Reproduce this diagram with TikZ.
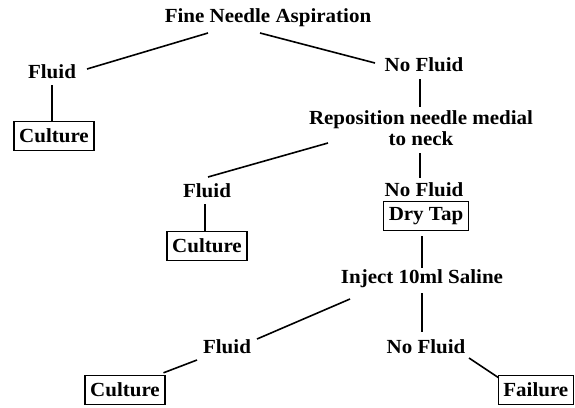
\documentclass[tikz,border=0pt]{standalone}
\usepackage{fontspec}
\setmainfont[FakeStretch=1.05]{Liberation Serif}

\begin{document}
\begin{tikzpicture}[x=1pt, y=-1pt,
  txt/.style={font=\bfseries\fontsize{20}{21}\selectfont, inner sep=0pt, align=center},
  res/.style={txt, draw, line width=1.4pt, inner xsep=5pt, minimum height=29pt},
  link/.style={line width=1.6pt}
]
\useasboundingbox (0,0) rectangle (575,407);
% first attempt
\node[txt] (fna) at (268,18) {Fine Needle Aspiration};
\node[txt] (fluidA) at (52,72) {Fluid};
\node[txt] (nofluidA) at (424,65) {No Fluid};
\node[res] (cultureA) at (54,136) {Culture};
\node[txt] (repos) at (421,128) {Reposition needle medial\\to neck};
% second attempt
\node[txt] (fluidB) at (207,191) {Fluid};
\node[txt] (nofluidB) at (424,190) {No Fluid};
\node[res] (cultureB) at (207,246) {Culture};
\node[res] (drytap) at (426,216) {Dry Tap};
\node[txt] (inject) at (422,279) {Inject 10ml Saline};
% saline
\node[txt] (fluidC) at (227,347) {Fluid};
\node[txt] (nofluidC) at (426,347) {No Fluid};
\node[res] (cultureC) at (125,390) {Culture};
\node[res, anchor=east] (failure) at (574,390) {Failure};

\draw[link] ([shift={(-60,15)}]fna.center) -- ([shift={(35,-3)}]fluidA.center);
\draw[link] ([shift={(-8,15)}]fna.center) -- ([shift={(-49,-2)}]nofluidA.center);
\draw[link] ([shift={(0,13)}]fluidA.center) -- (fluidA.center |- cultureA.north);
\draw[link] ([shift={(-4,14)}]nofluidA.center) -- ([shift={(-1,-21)}]repos.center);
\draw[link] ([shift={(-93,15)}]repos.center) -- ([shift={(1,-14)}]fluidB.center);
\draw[link] ([shift={(-1,25)}]repos.center) -- ([shift={(-4,-12)}]nofluidB.center);
\draw[link] ([shift={(-2,13)}]fluidB.center) -- ([xshift=-2pt]cultureB.north);
\draw[link] ([shift={(-4,5)}]drytap.south) -- ([shift={(0,-11)}]inject.center);
\draw[link] ([shift={(-72,20)}]inject.center) -- ([shift={(30,-8)}]fluidC.center);
\draw[link] ([shift={(0,14)}]inject.center) -- ([shift={(-4,-15)}]nofluidC.center);
\draw[link] ([shift={(-30,13)}]fluidC.center) -- ([shift={(-2,-2)}]cultureC.north east);
\draw[link] ([shift={(43,11)}]nofluidC.center) -- ([shift={(1,3)}]failure.north west);
\end{tikzpicture}
\end{document}
